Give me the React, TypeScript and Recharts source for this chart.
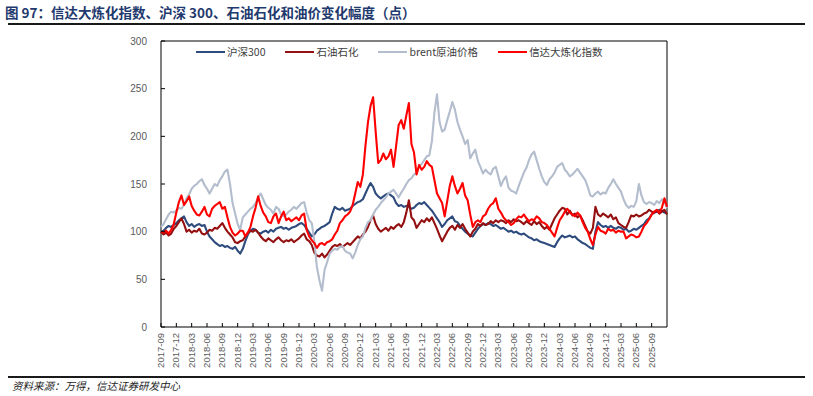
import { LineChart, Line, XAxis, YAxis, ReferenceArea } from "recharts";

// x axis: quarterly labels, one every 3 months starting 2017-09
const tickLabels = [
  "2017-09", "2017-12", "2018-03", "2018-06", "2018-09", "2018-12", "2019-03", "2019-06",
  "2019-09", "2019-12", "2020-03", "2020-06", "2020-09", "2020-12", "2021-03", "2021-06",
  "2021-09", "2021-12", "2022-03", "2022-06", "2022-09", "2022-12", "2023-03", "2023-06",
  "2023-09", "2023-12", "2024-03", "2024-06", "2024-09", "2024-12", "2025-03", "2025-06",
  "2025-09",
];
const yTicks = [0, 50, 100, 150, 200, 250, 300];

// values read every half month from 2017-09
const hs300 = [
  100, 101, 104, 106, 105, 107, 109, 112, 114, 116,
  110, 106, 108, 105, 107, 108, 106, 107, 100, 95,
  92, 89, 87, 85, 86, 84, 85, 83, 82, 84,
  80, 77, 82, 90, 97, 101, 103, 102, 99, 98,
  100, 101, 99, 102, 100, 103, 104, 105, 103, 104,
  102, 104, 105, 106, 108, 109, 107, 103, 99, 95,
  97, 101, 103, 105, 106, 108, 110, 119, 126, 124,
  123, 125, 122, 123, 124, 127, 129, 131, 132, 134,
  140, 146, 151, 147, 140, 137, 135, 137, 139, 140,
  138, 136, 130, 127, 128, 126, 127, 126, 124, 125,
  128, 130, 129, 131, 128, 125, 122, 118, 114, 110,
  105, 108, 112, 114, 116, 111, 110, 106, 103, 100,
  98, 96, 95, 99, 103, 106, 108, 107, 109, 108,
  106, 107, 105, 103, 104, 102, 100, 101, 99, 100,
  98, 97, 98, 96, 94, 93, 91, 92, 90, 89,
  88, 87, 86, 85, 84, 89, 93, 96, 94, 95,
  96, 94, 95, 92, 90, 88, 87, 85, 83, 82,
  100, 110, 107, 105, 106, 104, 106, 104, 103, 105,
  104, 102, 103, 100, 101, 103, 102, 104, 106, 108,
  112, 114, 118, 120, 121, 123, 122, 120, 119,
];

const oilPetro = [
  100, 97, 99, 96, 98, 103, 106, 110, 114, 108,
  100, 102, 99, 101, 100, 103, 98, 97, 99, 102,
  101, 104, 103, 106, 109, 104, 100, 97, 94, 89,
  88, 90, 91, 95, 99, 101, 100, 102, 99, 95,
  92, 90, 93, 91, 89, 92, 94, 91, 89, 91,
  90, 92, 89, 91, 93, 96, 98, 92, 90, 86,
  78, 75, 74, 77, 73, 76, 80, 84, 86, 85,
  87, 84, 86, 88, 86, 89, 92, 95, 93, 97,
  100, 105, 112, 117, 108, 103, 100, 102, 104, 101,
  105, 103, 106, 108, 105, 110, 120, 133, 115, 112,
  104, 108, 112, 110, 114, 111, 115, 109, 103, 96,
  90, 95, 100, 104, 106, 102, 107, 104, 108, 103,
  99, 95, 100, 103, 108, 106, 109, 107, 108, 111,
  109, 112, 110, 112, 111, 109, 112, 110, 113, 111,
  112, 110, 108, 111, 109, 107, 111, 108, 110, 106,
  103, 105, 102, 108, 114, 118, 122, 125, 124, 118,
  122, 117, 119, 115, 117, 112, 106, 100, 98, 104,
  126, 118, 116, 119, 117, 115, 118, 113, 115, 109,
  107, 105, 104, 110, 117, 116, 118, 116, 117, 119,
  120, 123, 121, 120, 122, 119, 121, 123, 118,
];

const brentPrice = [
  105, 108, 113, 118, 121, 120, 122, 125, 124, 128,
  135, 139, 145, 148, 150, 153, 155, 149, 145, 140,
  145, 150, 148, 154, 158, 163, 165, 150, 130, 119,
  108, 102, 115, 118, 121, 124, 126, 130, 136, 140,
  134, 128, 125, 123, 119, 126, 124, 118, 116, 118,
  121, 123, 126, 124, 127, 130, 131, 120, 112, 109,
  90, 63, 49, 38, 60, 68, 77, 80, 82, 81,
  84, 85, 80, 78, 77, 72, 78, 86, 92, 95,
  104, 110, 112, 118, 123, 126, 130, 133, 136, 140,
  142, 144, 140, 136, 141, 145, 150, 154, 156, 160,
  162, 168, 171, 175, 179, 180, 195, 225, 244, 215,
  205, 207, 217, 226, 236, 228, 215, 207, 200, 192,
  196, 177, 182, 186, 174, 168, 161, 165, 162, 160,
  166, 168, 158, 148, 154, 158, 146, 143, 142, 140,
  148, 155, 162, 167, 175, 181, 184, 175, 166, 158,
  152, 149, 155, 158, 162, 168, 170, 172, 165, 162,
  158, 160, 163, 166, 162, 158, 154, 147, 138, 137,
  140, 142, 139, 141, 140, 146, 150, 155, 150, 146,
  142, 134, 128, 125, 127, 126, 132, 150, 138, 131,
  129, 131, 130, 128, 132, 130, 134, 131, 125,
];

const xindaRefining = [
  100, 99, 101, 98, 102, 108, 120, 131, 138, 128,
  132, 137, 127, 122, 118, 117, 121, 126, 118, 116,
  124, 127, 129, 131, 124, 126, 115, 105, 99, 96,
  98, 101, 101, 95, 99, 105, 116, 125, 137, 127,
  120, 116, 110, 109, 116, 119, 109, 116, 121, 112,
  114, 111, 113, 115, 112, 117, 119, 102, 95, 91,
  88, 83, 87, 88, 86, 89, 90, 92, 97, 101,
  109, 112, 116, 118, 121, 128, 140, 152, 147, 160,
  190, 215, 232, 241, 205, 172, 175, 182, 176, 179,
  186, 168, 190, 212, 217, 208, 222, 235, 192, 183,
  160, 170, 165, 168, 174, 170, 168, 154, 140, 135,
  130, 116, 132, 148, 158, 148, 140, 145, 151, 138,
  133, 118, 105, 110, 112, 110, 116, 118, 124, 128,
  130, 135, 124, 120, 115, 112, 110, 107, 109, 113,
  116, 115, 118, 114, 111, 113, 112, 116, 114, 110,
  109, 107, 103, 99, 95, 104, 112, 116, 121, 124,
  120, 118, 116, 120, 117, 110, 104, 100, 92, 86,
  97, 105, 101, 100, 98, 103, 101, 102, 99, 101,
  100, 100, 93, 95, 97, 96, 94, 95, 100, 106,
  109, 113, 118, 121, 123, 120, 125, 135, 126,
];

const series = [
  { key: "hs300", name: "沪深300", color: "#2e4b7d", values: hs300 },
  { key: "oil", name: "石油石化", color: "#940f0f", values: oilPetro },
  { key: "brent", name: "brent原油价格", color: "#b3bdcd", values: brentPrice },
  { key: "xinda", name: "信达大炼化指数", color: "#ff0000", values: xindaRefining },
];

const data = hs300.map((_, i) => {
  const row: Record<string, number> = { t: i / 2 };
  series.forEach((s) => (row[s.key] = s.values[i]));
  return row;
});

const axisFont = "'Liberation Sans', Arial, sans-serif";
const cjkFont = "'Noto Sans CJK SC', 'Liberation Sans', sans-serif";

function YTick({ x, y, payload }: any) {
  return (
    <g>
      <line x1={x} x2={x + 4} y1={y} y2={y} stroke="#000" />
      <text x={x - 14} y={y} dy={3.5} textAnchor="end" fontSize={10} fill="#595959" fontFamily={axisFont}>
        {payload.value}
      </text>
    </g>
  );
}

function XTick({ x, y, payload }: any) {
  const label = tickLabels[Math.round(payload.value / 3)];
  return (
    <g>
      <line x1={x} x2={x} y1={y} y2={y - 4} stroke="#000" />
      <text
        x={x}
        y={y + 6}
        dy={3}
        textAnchor="end"
        fontSize={9.5}
        fill="#595959"
        fontFamily={axisFont}
        transform={`rotate(-90, ${x}, ${y + 6})`}
      >
        {label}
      </text>
    </g>
  );
}

export default function App() {
  return (
    <div style={{ position: "absolute", left: 0, top: 0, width: 813, height: 396, background: "#fff", overflow: "hidden" }}>
      <div
        style={{
          position: "absolute",
          left: 5,
          top: 2,
          fontFamily: cjkFont,
          fontWeight: 700,
          fontSize: 13.5,
          color: "#1f3a6e",
          whiteSpace: "nowrap",
        }}
      >
        图 97：信达大炼化指数、沪深 300、石油石化和油价变化幅度（点）
      </div>
      <div style={{ position: "absolute", left: 8, top: 23, width: 797, height: 2, background: "#1a1a1a" }} />

      <LineChart width={813} height={396} data={data} margin={{ top: 41, right: 146, bottom: 29, left: 121 }}>
        <XAxis
          type="number"
          dataKey="t"
          domain={[0, 99]}
          ticks={tickLabels.map((_, i) => i * 3)}
          interval={0}
          tick={<XTick />}
          tickSize={0}
          tickMargin={0}
          tickLine={false}
          axisLine={false}
          height={40}
        />
        <YAxis
          domain={[0, 300]}
          ticks={yTicks}
          interval={0}
          tick={<YTick />}
          tickSize={0}
          tickMargin={0}
          tickLine={false}
          axisLine={false}
          width={40}
        />
        <ReferenceArea x1={0} x2={99} y1={0} y2={300} fill="none" stroke="#000" strokeWidth={1} />
        {series.map((s) => (
          <Line
            key={s.key}
            type="linear"
            dataKey={s.key}
            name={s.name}
            stroke={s.color}
            strokeWidth={2.1}
            strokeLinejoin="round"
            dot={false}
            isAnimationActive={false}
          />
        ))}
      </LineChart>

      <div
        style={{
          position: "absolute",
          left: 196,
          top: 44,
          display: "flex",
          gap: 20,
          alignItems: "center",
          fontFamily: cjkFont,
          fontSize: 10.5,
          color: "#404040",
        }}
      >
        {series.map((s) => (
          <div key={s.key} style={{ display: "flex", alignItems: "center" }}>
            <span style={{ display: "inline-block", width: 29, height: 2, background: s.color, marginRight: 2 }} />
            <span>{s.name}</span>
          </div>
        ))}
      </div>

      <div style={{ position: "absolute", left: 8, top: 376, width: 797, height: 1.5, background: "#1a1a1a" }} />
      <div
        style={{
          position: "absolute",
          left: 12,
          top: 378,
          fontFamily: cjkFont,
          fontStyle: "italic",
          fontSize: 10.5,
          color: "#222",
          whiteSpace: "nowrap",
        }}
      >
        资料来源：万得，信达证券研发中心
      </div>
    </div>
  );
}
